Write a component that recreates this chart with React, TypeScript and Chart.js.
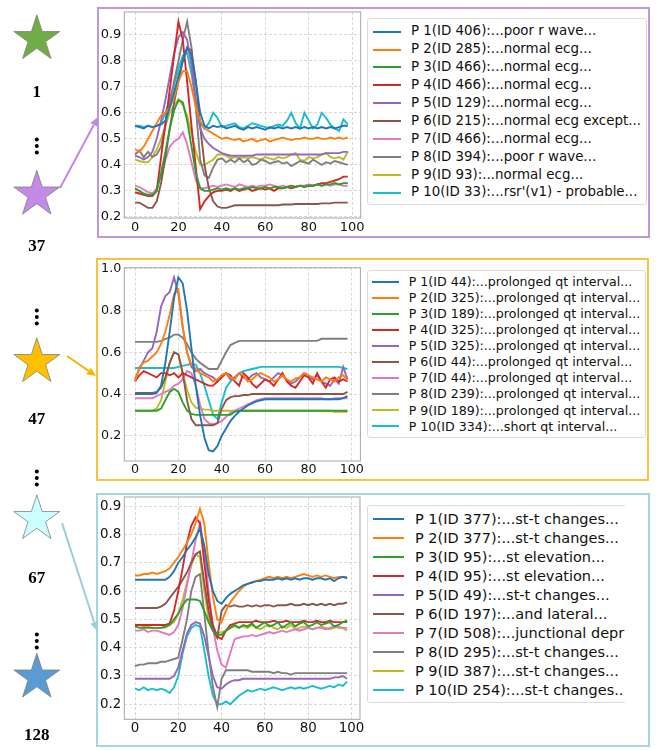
import React, { useEffect, useRef } from "react";
import { Chart, registerables } from "chart.js";
Chart.register(...registerables);

// ---------- data ----------
const xValues = [0,2,4,6,8,10,12,14,16,18,20,22,24,26,28,30,32,34,36,38,40,42,44,46,48,50,52,54,56,58,60,62,64,66,68,70,72,74,76,78,80,82,84,86,88,90,92,94,96,98];
const xTickValues = [0, 20, 40, 60, 80, 100];
const seriesColors = ["#1f77b4","#ff7f0e","#2ca02c","#d62728","#9467bd","#8c564b","#e377c2","#7f7f7f","#bcbd22","#17becf"];
const clusterIds = ["1", "37", "47", "67", "128"];

const p1Labels = [
  "P 1(ID 406):...poor r wave...",
  "P 2(ID 285):...normal ecg...",
  "P 3(ID 466):...normal ecg...",
  "P 4(ID 466):...normal ecg...",
  "P 5(ID 129):...normal ecg...",
  "P 6(ID 215):...normal ecg except...",
  "P 7(ID 466):...normal ecg...",
  "P 8(ID 394):...poor r wave...",
  "P 9(ID 93):...normal ecg...",
  "P 10(ID 33):...rsr'(v1) - probable...",
];
const p2Labels = [
  "P 1(ID 44):...prolonged qt interval...",
  "P 2(ID 325):...prolonged qt interval...",
  "P 3(ID 189):...prolonged qt interval...",
  "P 4(ID 325):...prolonged qt interval...",
  "P 5(ID 325):...prolonged qt interval...",
  "P 6(ID 44):...prolonged qt interval...",
  "P 7(ID 44):...prolonged qt interval...",
  "P 8(ID 239):...prolonged qt interval...",
  "P 9(ID 189):...prolonged qt interval...",
  "P 10(ID 334):...short qt interval...",
];
const p3Labels = [
  "P 1(ID 377):...st-t changes...",
  "P 2(ID 377):...st-t changes...",
  "P 3(ID 95):...st elevation...",
  "P 4(ID 95):...st elevation...",
  "P 5(ID 49):...st-t changes...",
  "P 6(ID 197):...and lateral...",
  "P 7(ID 508):...junctional depr",
  "P 8(ID 295):...st-t changes...",
  "P 9(ID 387):...st-t changes...",
  "P 10(ID 254):...st-t changes..",
];

// panel 1 (cluster 37)
const p1s1 = [0.55,0.545,0.54,0.55,0.545,0.55,0.555,0.57,0.62,0.68,0.74,0.8,0.85,0.82,0.72,0.6,0.55,0.54,0.55,0.545,0.55,0.54,0.545,0.55,0.54,0.535,0.545,0.54,0.545,0.54,0.535,0.545,0.54,0.545,0.54,0.545,0.54,0.545,0.54,0.545,0.54,0.545,0.54,0.545,0.54,0.545,0.54,0.545,0.55,0.55];
const p1s2 = [0.46,0.45,0.47,0.5,0.53,0.56,0.59,0.6,0.62,0.66,0.72,0.76,0.76,0.7,0.62,0.57,0.54,0.53,0.52,0.51,0.5,0.505,0.5,0.495,0.5,0.49,0.495,0.5,0.49,0.495,0.5,0.49,0.495,0.5,0.505,0.5,0.495,0.5,0.5,0.505,0.5,0.5,0.505,0.5,0.5,0.505,0.5,0.505,0.5,0.505];
const p1s3 = [0.31,0.3,0.29,0.285,0.285,0.3,0.37,0.45,0.54,0.61,0.65,0.64,0.57,0.47,0.37,0.31,0.3,0.3,0.305,0.31,0.305,0.31,0.305,0.31,0.305,0.31,0.31,0.315,0.31,0.31,0.315,0.31,0.315,0.315,0.31,0.315,0.32,0.315,0.32,0.315,0.32,0.32,0.325,0.32,0.325,0.325,0.33,0.325,0.33,0.33];
const p1s4 = [0.295,0.29,0.285,0.28,0.28,0.3,0.43,0.56,0.69,0.82,0.95,0.88,0.72,0.55,0.39,0.23,0.26,0.28,0.295,0.3,0.3,0.305,0.3,0.31,0.3,0.305,0.31,0.3,0.305,0.31,0.305,0.31,0.3,0.31,0.31,0.315,0.31,0.315,0.32,0.315,0.32,0.32,0.325,0.33,0.33,0.335,0.34,0.345,0.355,0.355];
const p1s5 = [0.435,0.43,0.42,0.43,0.45,0.5,0.57,0.65,0.74,0.83,0.89,0.91,0.88,0.78,0.64,0.54,0.5,0.48,0.465,0.455,0.445,0.44,0.435,0.435,0.435,0.435,0.435,0.435,0.44,0.44,0.44,0.44,0.44,0.44,0.44,0.44,0.44,0.44,0.44,0.44,0.44,0.44,0.44,0.44,0.445,0.445,0.445,0.445,0.45,0.45];
const p1s6 = [0.255,0.255,0.245,0.235,0.235,0.26,0.33,0.43,0.54,0.64,0.72,0.8,0.85,0.84,0.72,0.55,0.4,0.31,0.26,0.24,0.235,0.235,0.24,0.245,0.245,0.245,0.245,0.245,0.245,0.245,0.245,0.245,0.245,0.245,0.248,0.248,0.248,0.25,0.25,0.25,0.25,0.25,0.25,0.252,0.252,0.252,0.255,0.255,0.255,0.255];
const p1s7 = [0.32,0.315,0.305,0.295,0.29,0.31,0.36,0.42,0.47,0.49,0.5,0.525,0.48,0.41,0.34,0.31,0.31,0.315,0.32,0.315,0.32,0.325,0.32,0.315,0.325,0.32,0.315,0.32,0.315,0.32,0.32,0.325,0.32,0.315,0.32,0.315,0.32,0.315,0.32,0.32,0.325,0.32,0.325,0.32,0.325,0.32,0.325,0.325,0.32,0.32];
const p1s8 = [0.44,0.455,0.43,0.45,0.43,0.44,0.47,0.55,0.64,0.72,0.8,0.88,0.95,0.85,0.62,0.42,0.36,0.35,0.39,0.42,0.425,0.41,0.42,0.41,0.425,0.41,0.42,0.4,0.405,0.42,0.415,0.405,0.41,0.415,0.405,0.41,0.395,0.405,0.415,0.41,0.405,0.42,0.41,0.4,0.41,0.405,0.415,0.41,0.405,0.4];
const p1s9 = [0.42,0.415,0.41,0.41,0.43,0.46,0.5,0.55,0.6,0.63,0.65,0.63,0.59,0.52,0.45,0.4,0.4,0.41,0.42,0.44,0.44,0.435,0.425,0.43,0.425,0.43,0.425,0.43,0.425,0.42,0.43,0.425,0.42,0.43,0.425,0.43,0.44,0.445,0.42,0.415,0.43,0.425,0.43,0.44,0.445,0.43,0.425,0.43,0.42,0.45];
const p1s10 = [0.55,0.55,0.545,0.55,0.545,0.55,0.56,0.6,0.65,0.71,0.77,0.82,0.83,0.75,0.64,0.56,0.54,0.56,0.6,0.58,0.545,0.55,0.555,0.56,0.545,0.54,0.55,0.56,0.555,0.55,0.545,0.54,0.55,0.555,0.55,0.57,0.6,0.56,0.54,0.6,0.57,0.54,0.555,0.6,0.58,0.555,0.54,0.53,0.575,0.555];

// panel 2 (cluster 47)
const p2s1 = [0.4,0.4,0.4,0.4,0.4,0.405,0.44,0.55,0.7,0.86,0.96,0.93,0.8,0.62,0.44,0.3,0.19,0.13,0.125,0.15,0.2,0.235,0.27,0.295,0.315,0.33,0.345,0.355,0.365,0.37,0.375,0.375,0.375,0.375,0.375,0.375,0.375,0.375,0.375,0.375,0.375,0.375,0.375,0.375,0.375,0.375,0.375,0.375,0.38,0.39];
const p2s2 = [0.46,0.53,0.55,0.56,0.58,0.6,0.64,0.7,0.78,0.88,0.9,0.72,0.6,0.54,0.52,0.5,0.49,0.48,0.46,0.47,0.49,0.5,0.48,0.47,0.5,0.49,0.46,0.47,0.49,0.5,0.49,0.48,0.46,0.47,0.49,0.47,0.46,0.475,0.48,0.5,0.49,0.48,0.47,0.46,0.48,0.47,0.46,0.48,0.49,0.465];
const p2s3 = [0.32,0.32,0.32,0.32,0.32,0.32,0.33,0.37,0.41,0.425,0.41,0.36,0.32,0.305,0.3,0.3,0.3,0.3,0.3,0.3,0.3,0.3,0.3,0.315,0.32,0.32,0.32,0.32,0.32,0.32,0.32,0.32,0.32,0.32,0.32,0.32,0.32,0.32,0.32,0.32,0.32,0.32,0.32,0.32,0.32,0.32,0.32,0.32,0.32,0.32];
const p2s4 = [0.46,0.49,0.51,0.5,0.49,0.48,0.5,0.5,0.49,0.5,0.48,0.5,0.49,0.48,0.47,0.46,0.45,0.44,0.44,0.46,0.48,0.5,0.49,0.46,0.44,0.5,0.48,0.45,0.43,0.45,0.47,0.46,0.44,0.47,0.5,0.46,0.44,0.43,0.46,0.49,0.48,0.45,0.5,0.46,0.43,0.47,0.48,0.46,0.47,0.46];
const p2s5 = [0.47,0.52,0.56,0.6,0.62,0.7,0.82,0.87,0.89,0.96,0.88,0.72,0.6,0.53,0.51,0.52,0.5,0.49,0.48,0.46,0.49,0.5,0.47,0.48,0.5,0.48,0.47,0.49,0.5,0.48,0.47,0.46,0.48,0.5,0.49,0.47,0.45,0.46,0.48,0.5,0.49,0.47,0.49,0.46,0.45,0.44,0.47,0.45,0.53,0.47];
const p2s6 = [0.405,0.405,0.405,0.405,0.405,0.41,0.43,0.48,0.55,0.6,0.59,0.5,0.37,0.28,0.25,0.25,0.25,0.25,0.25,0.26,0.33,0.37,0.385,0.39,0.39,0.395,0.395,0.4,0.4,0.4,0.4,0.4,0.4,0.4,0.4,0.4,0.4,0.4,0.4,0.4,0.4,0.4,0.4,0.4,0.4,0.4,0.4,0.4,0.4,0.41];
const p2s7 = [0.38,0.38,0.38,0.38,0.38,0.39,0.4,0.41,0.42,0.44,0.45,0.47,0.51,0.5,0.44,0.35,0.28,0.26,0.255,0.26,0.27,0.29,0.31,0.32,0.33,0.34,0.35,0.36,0.37,0.375,0.38,0.38,0.38,0.38,0.38,0.38,0.38,0.38,0.38,0.38,0.38,0.38,0.38,0.38,0.375,0.375,0.38,0.38,0.38,0.38];
const p2s8 = [0.65,0.65,0.65,0.65,0.65,0.65,0.655,0.665,0.67,0.685,0.685,0.67,0.64,0.6,0.57,0.55,0.535,0.52,0.52,0.52,0.56,0.6,0.635,0.645,0.655,0.655,0.655,0.655,0.655,0.655,0.655,0.655,0.655,0.655,0.655,0.655,0.655,0.655,0.655,0.655,0.655,0.655,0.655,0.665,0.665,0.665,0.665,0.665,0.665,0.665];
const p2s9 = [0.32,0.32,0.32,0.32,0.32,0.33,0.37,0.46,0.55,0.6,0.59,0.5,0.42,0.36,0.335,0.33,0.325,0.325,0.32,0.32,0.32,0.32,0.32,0.32,0.32,0.32,0.32,0.32,0.32,0.32,0.32,0.32,0.32,0.32,0.32,0.32,0.32,0.32,0.32,0.32,0.32,0.32,0.32,0.32,0.32,0.32,0.315,0.315,0.315,0.315];
const p2s10 = [0.525,0.525,0.525,0.525,0.525,0.525,0.525,0.525,0.525,0.525,0.53,0.535,0.54,0.545,0.54,0.5,0.44,0.37,0.3,0.28,0.36,0.43,0.46,0.48,0.5,0.51,0.515,0.52,0.525,0.53,0.53,0.53,0.53,0.53,0.53,0.53,0.53,0.53,0.53,0.53,0.53,0.53,0.53,0.53,0.53,0.53,0.53,0.53,0.525,0.52];

// panel 3 (cluster 67)
const p3s1 = [0.64,0.64,0.64,0.64,0.64,0.64,0.64,0.64,0.65,0.67,0.7,0.72,0.745,0.765,0.79,0.82,0.76,0.66,0.6,0.565,0.555,0.575,0.59,0.6,0.61,0.62,0.625,0.63,0.635,0.635,0.64,0.64,0.64,0.645,0.64,0.645,0.64,0.645,0.64,0.645,0.645,0.64,0.645,0.645,0.64,0.645,0.635,0.645,0.65,0.645];
const p3s2 = [0.655,0.655,0.66,0.66,0.665,0.66,0.665,0.67,0.68,0.7,0.72,0.745,0.77,0.8,0.84,0.89,0.84,0.7,0.58,0.5,0.49,0.53,0.56,0.58,0.6,0.615,0.625,0.63,0.635,0.64,0.645,0.65,0.645,0.65,0.645,0.65,0.645,0.65,0.655,0.66,0.655,0.65,0.655,0.65,0.655,0.65,0.645,0.65,0.65,0.65];
const p3s3 = [0.475,0.47,0.47,0.47,0.47,0.47,0.47,0.475,0.48,0.5,0.52,0.55,0.57,0.57,0.57,0.565,0.53,0.49,0.46,0.445,0.445,0.46,0.47,0.48,0.47,0.48,0.475,0.485,0.47,0.48,0.49,0.475,0.48,0.49,0.47,0.48,0.49,0.475,0.485,0.49,0.475,0.48,0.49,0.48,0.485,0.49,0.475,0.48,0.49,0.495];
const p3s4 = [0.48,0.48,0.48,0.48,0.48,0.48,0.48,0.48,0.485,0.53,0.6,0.68,0.77,0.83,0.86,0.84,0.7,0.57,0.48,0.44,0.43,0.46,0.48,0.485,0.49,0.49,0.49,0.49,0.495,0.49,0.49,0.49,0.495,0.49,0.49,0.495,0.49,0.49,0.49,0.495,0.49,0.49,0.495,0.49,0.49,0.495,0.49,0.49,0.49,0.49];
const p3s5 = [0.29,0.29,0.29,0.29,0.29,0.29,0.29,0.29,0.29,0.3,0.33,0.39,0.45,0.48,0.49,0.485,0.44,0.37,0.3,0.26,0.255,0.27,0.28,0.285,0.285,0.29,0.29,0.29,0.29,0.29,0.29,0.29,0.29,0.29,0.29,0.29,0.29,0.29,0.29,0.29,0.29,0.29,0.29,0.29,0.29,0.29,0.295,0.295,0.3,0.29];
const p3s6 = [0.54,0.54,0.54,0.54,0.54,0.54,0.545,0.555,0.575,0.595,0.615,0.64,0.665,0.7,0.73,0.74,0.63,0.53,0.46,0.435,0.53,0.55,0.545,0.55,0.545,0.545,0.55,0.545,0.55,0.545,0.55,0.55,0.545,0.55,0.55,0.55,0.555,0.55,0.55,0.555,0.55,0.555,0.55,0.555,0.55,0.555,0.55,0.555,0.555,0.56];
const p3s7 = [0.46,0.46,0.465,0.455,0.46,0.46,0.455,0.45,0.445,0.455,0.48,0.54,0.62,0.7,0.78,0.84,0.75,0.6,0.47,0.39,0.34,0.33,0.38,0.43,0.435,0.44,0.44,0.445,0.44,0.445,0.45,0.455,0.45,0.455,0.46,0.455,0.46,0.465,0.46,0.465,0.47,0.465,0.47,0.47,0.465,0.47,0.475,0.47,0.47,0.47];
const p3s8 = [0.335,0.34,0.34,0.345,0.345,0.345,0.35,0.35,0.355,0.36,0.365,0.43,0.5,0.6,0.65,0.66,0.52,0.38,0.26,0.19,0.29,0.32,0.32,0.32,0.32,0.32,0.32,0.315,0.315,0.315,0.315,0.315,0.31,0.315,0.31,0.31,0.305,0.31,0.31,0.31,0.31,0.31,0.31,0.31,0.31,0.31,0.31,0.31,0.31,0.31];
const p3s9 = [0.475,0.48,0.475,0.475,0.47,0.47,0.47,0.47,0.48,0.49,0.52,0.57,0.63,0.69,0.73,0.72,0.6,0.5,0.46,0.45,0.455,0.46,0.47,0.475,0.47,0.475,0.47,0.48,0.47,0.465,0.475,0.48,0.47,0.465,0.475,0.47,0.48,0.465,0.47,0.475,0.47,0.465,0.47,0.475,0.47,0.465,0.47,0.475,0.47,0.46];
const p3s10 = [0.255,0.25,0.26,0.25,0.255,0.25,0.255,0.25,0.24,0.26,0.3,0.38,0.44,0.47,0.48,0.475,0.39,0.3,0.23,0.2,0.2,0.21,0.2,0.215,0.23,0.24,0.25,0.245,0.25,0.255,0.25,0.255,0.26,0.255,0.25,0.255,0.26,0.255,0.26,0.255,0.26,0.265,0.26,0.255,0.26,0.265,0.26,0.27,0.265,0.28];

const p1Series = [p1s1, p1s2, p1s3, p1s4, p1s5, p1s6, p1s7, p1s8, p1s9, p1s10];
const p2Series = [p2s1, p2s2, p2s3, p2s4, p2s5, p2s6, p2s7, p2s8, p2s9, p2s10];
const p3Series = [p3s1, p3s2, p3s3, p3s4, p3s5, p3s6, p3s7, p3s8, p3s9, p3s10];

// ---------- layout ----------
const FONT = "'DejaVu Sans', 'Liberation Sans', sans-serif";

const panels = [
  {
    series: p1Series, labels: p1Labels,
    canvas: { left: 98, top: 4, width: 268, height: 236 },
    yAxisW: 26.3, xAxisH: 22, padTop: 8, padRight: 5.3,
    yMin: 0.196, yMax: 0.987, yStep: 0.1, font: 13, xPad: 2,
    box: { left: 96.5, top: 7, width: 553.5, height: 231, color: "#b89ae0" },
    legend: { left: 366.7, top: 18.3, width: 280, height: 186.7, row0: 12.4, dy: 17.9, sx: 5, sw: 28.3, tx: 43.3, font: 13.4, clip: 0 },
  },
  {
    series: p2Series, labels: p2Labels,
    canvas: { left: 98, top: 260, width: 268, height: 222 },
    yAxisW: 26.3, xAxisH: 21, padTop: 7.7, padRight: 5.6,
    yMin: 0.0786, yMax: 1.006, yStep: 0.2, font: 12.7, xPad: 1.2,
    box: { left: 96, top: 258, width: 553.3, height: 222.7, color: "#f8c23a" },
    legend: { left: 366.7, top: 270, width: 279, height: 167.7, row0: 11, dy: 16.05, sx: 4.3, sw: 26.7, tx: 41, font: 12.6, clip: 0 },
  },
  {
    series: p3Series, labels: p3Labels,
    canvas: { left: 98, top: 489, width: 268, height: 258 },
    yAxisW: 26.3, xAxisH: 27.7, padTop: 8, padRight: 6,
    yMin: 0.147, yMax: 0.932, yStep: 0.1, font: 13.4, xPad: 1,
    box: { left: 96, top: 493.3, width: 554, height: 254, color: "#a3d6e2" },
    legend: { left: 367.3, top: 505, width: 300, height: 198.3, row0: 13.3, dy: 19, sx: 5, sw: 30.4, tx: 46.7, font: 14.5, clip: 257.7 },
  },
];

const framePlugin = {
  id: "frame",
  afterDraw(chart: any) {
    const { ctx, chartArea } = chart;
    ctx.save();
    ctx.strokeStyle = "#a6a6a6";
    ctx.lineWidth = 1;
    ctx.strokeRect(chartArea.left, chartArea.top, chartArea.right - chartArea.left, chartArea.bottom - chartArea.top);
    ctx.restore();
  },
};

function ChartPanel({ cfg }: { cfg: any }) {
  const ref = useRef<HTMLCanvasElement | null>(null);
  useEffect(() => {
    if (!ref.current) return;
    const datasets = cfg.series.map((ys: number[], i: number) => ({
      label: cfg.labels[i],
      data: ys.map((y: number, j: number) => ({ x: xValues[j], y })),
      borderColor: seriesColors[i],
      backgroundColor: seriesColors[i],
      borderWidth: 1.9,
      pointRadius: 0,
      tension: 0,
      fill: false,
    }));
    const tickFont = { family: FONT, size: cfg.font };
    const chart = new Chart(ref.current, {
      type: "line",
      data: { datasets },
      options: {
        animation: false,
        responsive: false,
        maintainAspectRatio: false,
        layout: { padding: { left: 0, right: cfg.padRight, top: cfg.padTop, bottom: 0 } },
        plugins: { legend: { display: false }, tooltip: { enabled: false } },
        scales: {
          x: {
            type: "linear",
            min: -4.95,
            max: 103.95,
            afterBuildTicks: (s: any) => { s.ticks = xTickValues.map((v) => ({ value: v })); },
            ticks: { font: tickFont, color: "#111", padding: cfg.xPad, maxRotation: 0, autoSkip: false, callback: (v: any) => String(v) },
            grid: { color: "#cfcfcf", lineWidth: 0.8, drawTicks: false },
            border: { display: false, dash: [3, 2] },
            afterFit: (s: any) => { s.height = cfg.xAxisH; s.paddingLeft = 0; s.paddingRight = 0; },
          },
          y: {
            type: "linear",
            min: cfg.yMin,
            max: cfg.yMax,
            ticks: { stepSize: cfg.yStep, includeBounds: false, font: tickFont, color: "#111", padding: 3, callback: (v: any) => Number(v).toFixed(1) },
            grid: { color: "#cfcfcf", lineWidth: 0.8, drawTicks: false },
            border: { display: false, dash: [3, 2] },
            afterFit: (s: any) => { s.width = cfg.yAxisW; s.paddingTop = 0; s.paddingBottom = 0; },
          },
        },
      },
      plugins: [framePlugin],
    } as any);
    return () => chart.destroy();
  }, [cfg]);
  const c = cfg.canvas;
  return (
    <canvas
      ref={ref}
      width={c.width}
      height={c.height}
      style={{ position: "absolute", left: c.left, top: c.top, width: c.width, height: c.height }}
    />
  );
}

function Legend({ cfg }: { cfg: any }) {
  const L = cfg.legend;
  const inner = (
    <div
      style={{
        position: "absolute", left: 0, top: 0, width: L.width, height: L.height,
        border: "1px solid #dcdcdc", borderRadius: 3, boxSizing: "border-box", background: "#fff",
      }}
    >
      {cfg.labels.map((lab: string, i: number) => {
        const cy = L.row0 + i * L.dy;
        const h = L.font * 1.25;
        return (
          <React.Fragment key={i}>
            <div style={{ position: "absolute", left: L.sx, top: cy - 1, width: L.sw, height: 2, background: seriesColors[i] }} />
            <div
              style={{
                position: "absolute", left: L.tx, top: cy - h / 2, height: h, lineHeight: h + "px",
                fontFamily: FONT, fontSize: L.font, color: "#111", whiteSpace: "nowrap",
              }}
            >
              {lab}
            </div>
          </React.Fragment>
        );
      })}
    </div>
  );
  return (
    <div
      style={{
        position: "absolute", left: L.left, top: L.top,
        width: L.clip ? L.clip : L.width, height: L.height, overflow: "hidden",
      }}
    >
      {inner}
    </div>
  );
}

function starPoints(cx: number, cy: number, R: number) {
  const r = R * 0.382;
  const pts: string[] = [];
  for (let k = 0; k < 10; k++) {
    const ang = -Math.PI / 2 + (k * Math.PI) / 5;
    const rad = k % 2 === 0 ? R : r;
    pts.push((cx + rad * Math.cos(ang)).toFixed(2) + "," + (cy + rad * Math.sin(ang)).toFixed(2));
  }
  return pts.join(" ");
}

function Arrow({ x1, y1, x2, y2, color }: { x1: number; y1: number; x2: number; y2: number; color: string }) {
  const dx = x2 - x1, dy = y2 - y1;
  const len = Math.hypot(dx, dy);
  const ux = dx / len, uy = dy / len;
  const hl = 9, hw = 4;
  const bx = x2 - ux * hl, by = y2 - uy * hl;
  const p = `${x2},${y2} ${bx - uy * hw},${by + ux * hw} ${bx + uy * hw},${by - ux * hw}`;
  return (
    <g>
      <line x1={x1} y1={y1} x2={bx} y2={by} stroke={color} strokeWidth={2} />
      <polygon points={p} fill={color} />
    </g>
  );
}

function Dots({ y }: { y: number }) {
  return (
    <g fill="#000">
      <circle cx={36.8} cy={y - 6.5} r={2} />
      <circle cx={36.8} cy={y} r={2} />
      <circle cx={36.8} cy={y + 6.5} r={2} />
    </g>
  );
}

const stars = [
  { cy: 39, color: "#70ad47" },
  { cy: 194.5, color: "#c58ae6" },
  { cy: 362, color: "#ffc000" },
  { cy: 519, color: "#ccffff" },
  { cy: 677.5, color: "#5b9bd5" },
];
const idY = [91, 245, 418, 577, 734];

export default function App() {
  return (
    <div style={{ position: "absolute", left: 0, top: 0, width: 656, height: 750, background: "#fff", overflow: "hidden" }}>
      {panels.map((p, i) => (
        <div
          key={"b" + i}
          style={{
            position: "absolute", left: p.box.left, top: p.box.top, width: p.box.width, height: p.box.height,
            border: `2px solid ${p.box.color}`, boxSizing: "border-box",
          }}
        />
      ))}
      {panels.map((p, i) => (
        <ChartPanel key={"c" + i} cfg={p} />
      ))}
      {panels.map((p, i) => (
        <Legend key={"l" + i} cfg={p} />
      ))}
      <svg width={656} height={750} style={{ position: "absolute", left: 0, top: 0, pointerEvents: "none" }}>
        {stars.map((s, i) => (
          <polygon key={i} points={starPoints(36.8, s.cy, 24.2)} fill={s.color} stroke="#7f7f7f" strokeWidth={0.8} />
        ))}
        {clusterIds.map((t, i) => (
          <text key={i} x={36.8} y={idY[i]} textAnchor="middle" dominantBaseline="central"
            fontFamily="'Liberation Serif', 'DejaVu Serif', serif" fontWeight="bold" fontSize={17} fill="#000">
            {t}
          </text>
        ))}
        <Dots y={146} />
        <Dots y={317} />
        <Dots y={478} />
        <Dots y={641} />
        <Arrow x1={60} y1={188} x2={98} y2={117} color="#c08ae8" />
        <Arrow x1={67} y1={356} x2={96} y2={376} color="#f5b800" />
        <Arrow x1={62} y1={523} x2={97} y2={631} color="#98cfdc" />
      </svg>
    </div>
  );
}
